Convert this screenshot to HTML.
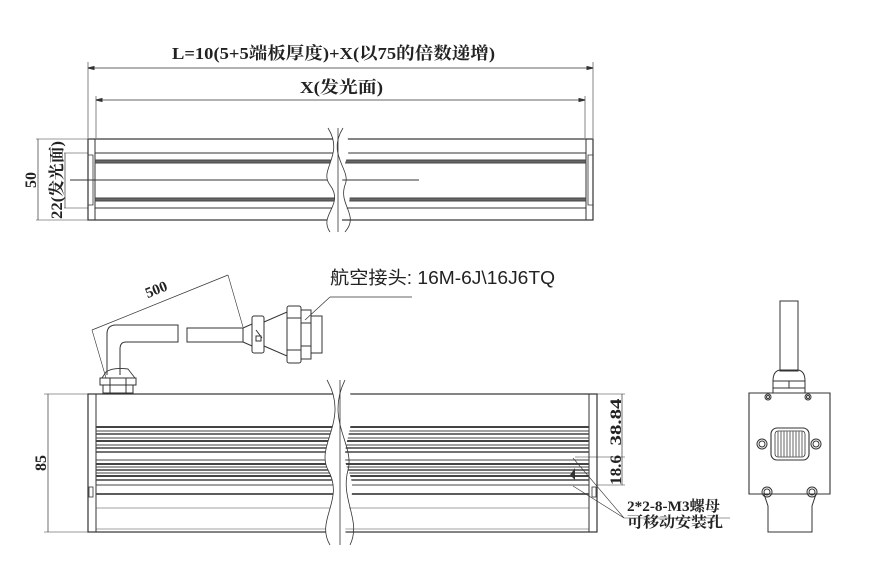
<!DOCTYPE html>
<html><head><meta charset="utf-8"><style>
html,body{margin:0;padding:0;background:#fff;}
svg{display:block;}
text{font-family:"Liberation Serif","Noto Serif CJK SC",serif;font-weight:bold;fill:#222;}
.s{font-family:"Liberation Sans","Noto Sans CJK SC",sans-serif;font-weight:normal;}
</style></head><body>
<svg width="877" height="580" viewBox="0 0 877 580" xmlns="http://www.w3.org/2000/svg" fill="none" stroke="#333" stroke-width="1">
<!-- TOP VIEW dims -->
<text x="172" y="59" font-size="17" textLength="323" lengthAdjust="spacingAndGlyphs" stroke="none">L=10(5+5端板厚度)+X(以75的倍数递增)</text>
<line x1="88" y1="62" x2="88" y2="138" stroke-width="0.6"/>
<line x1="593" y1="62" x2="593" y2="138" stroke-width="0.6"/>
<line x1="88" y1="68" x2="593" y2="68" stroke-width="0.7"/>
<path d="M88 68 l6 -1.5 v3z M593 68 l-6 -1.5 v3z" fill="#333"/>
<text x="300" y="93" font-size="17" textLength="83" lengthAdjust="spacingAndGlyphs" stroke="none">X(发光面)</text>
<line x1="96" y1="96" x2="96" y2="138" stroke-width="0.6"/>
<line x1="585" y1="96" x2="585" y2="138" stroke-width="0.6"/>
<line x1="96" y1="100" x2="585" y2="100" stroke-width="0.7"/>
<path d="M96 100 l6 -1.5 v3z M585 100 l-6 -1.5 v3z" fill="#333"/>
<!-- top body -->
<rect x="88" y="139" width="505" height="81" stroke-width="1.2"/>
<line x1="95" y1="139" x2="95" y2="220"/>
<line x1="586" y1="139" x2="586" y2="220"/>
<line x1="95" y1="153" x2="586" y2="153"/>
<rect x="95" y="160" width="491" height="3" fill="#666" stroke="#444"/>
<rect x="95" y="198" width="491" height="3" fill="#666" stroke="#444"/>
<line x1="95" y1="208" x2="586" y2="208"/>
<path d="M88 155 h5 v50 h-5" stroke-width="0.8"/>
<path d="M593 155 h-5 v50 h5" stroke-width="0.8"/>
<line x1="70" y1="180" x2="419" y2="180" stroke-width="0.9"/>
<!-- break top -->
<path d="M328 128 C345 155 318 170 330 185 C345 205 318 215 330 232 L345 232 C333 215 360 205 345 185 C333 170 360 155 343 128 Z" fill="#fff" stroke="none"/>
<path d="M328 128 C345 155 318 170 330 185 C345 205 318 215 330 232" stroke-width="0.8"/>
<path d="M343 128 C326 155 352 170 345 185 C338 205 360 215 345 232" stroke-width="0.8"/>
<line x1="338" y1="128" x2="338" y2="232" stroke-width="0.8"/>
<!-- 50 / 22 dims -->
<line x1="36" y1="139" x2="88" y2="139" stroke-width="0.5"/>
<line x1="36" y1="220" x2="88" y2="220" stroke-width="0.5"/>
<line x1="38" y1="139" x2="38" y2="220" stroke-width="0.7"/>
<line x1="64" y1="153" x2="88" y2="153" stroke-width="0.5"/>
<line x1="64" y1="208" x2="88" y2="208" stroke-width="0.5"/>
<line x1="65" y1="153" x2="65" y2="208" stroke-width="0.7"/>
<text transform="translate(36,180) rotate(-90)" font-size="16" text-anchor="middle" stroke="none">50</text>
<text transform="translate(62,180) rotate(-90)" font-size="16" text-anchor="middle" textLength="78" lengthAdjust="spacingAndGlyphs" stroke="none">22(发光面)</text>

<!-- BOTTOM VIEW -->
<text class="s" x="330" y="284" font-size="18" textLength="225" lengthAdjust="spacingAndGlyphs" stroke="none">航空接头: 16M-6J\16J6TQ</text>
<line x1="330" y1="297" x2="412" y2="297" stroke-width="0.7"/>
<line x1="330" y1="297" x2="305" y2="320" stroke-width="0.7"/>
<!-- 500 dimension -->
<line x1="92" y1="330" x2="228" y2="275" stroke-width="0.7"/>
<line x1="92" y1="330" x2="106" y2="378" stroke-width="0.6"/>
<line x1="228" y1="275" x2="243" y2="327" stroke-width="0.6"/>
<text transform="translate(158,294) rotate(-22)" font-size="15" text-anchor="middle" stroke="none">500</text>
<!-- cable elbow -->
<path d="M107 375 V334 Q107 325 116 325 H178 V342 H126 Q120 342 120 349 V375" stroke-width="1"/>
<rect x="187" y="328" width="56" height="14" stroke-width="1"/>
<!-- connector -->
<path d="M243 328 L252 324 V346 L243 342" stroke-width="1"/>
<rect x="252" y="316" width="12" height="37" rx="2"/>
<line x1="256" y1="330" x2="262" y2="338"/>
<rect x="256" y="336" width="5" height="5"/>
<path d="M264 322 L287 312 V356 L264 346Z"/>
<rect x="287" y="306" width="14" height="57" rx="2"/>
<line x1="287" y1="318" x2="301" y2="318"/><line x1="287" y1="350" x2="301" y2="350"/>
<rect x="301" y="310" width="10" height="49"/>
<line x1="301" y1="323" x2="311" y2="323"/><line x1="301" y1="346" x2="311" y2="346"/>
<rect x="311" y="316" width="11" height="37"/>
<!-- gland -->
<path d="M106 372 Q113 367 128 369 L135 378 H102 Z" stroke-width="0.9"/>
<rect x="100" y="378" width="36" height="7"/>
<rect x="103" y="385" width="30" height="8"/>
<line x1="110" y1="378" x2="110" y2="393"/><line x1="126" y1="378" x2="126" y2="393"/>
<!-- body -->
<rect x="88" y="394" width="509" height="138" stroke-width="1.2"/>
<line x1="96" y1="394" x2="96" y2="532"/>
<line x1="589" y1="394" x2="589" y2="532"/>
<g stroke="#444">
<line x1="96" y1="427" x2="589" y2="427" stroke-width="2"/>
<line x1="96" y1="431" x2="589" y2="431"/>
<line x1="96" y1="434" x2="589" y2="434" stroke-width="1.5"/>
<line x1="96" y1="438" x2="589" y2="438"/>
<line x1="96" y1="441" x2="589" y2="441" stroke-width="2"/>
<line x1="96" y1="445" x2="589" y2="445"/>
<line x1="96" y1="448" x2="589" y2="448" stroke-width="1.5"/>
<line x1="96" y1="452" x2="589" y2="452" stroke-width="1.5"/>
<line x1="96" y1="460" x2="589" y2="460"/>
<line x1="96" y1="464" x2="589" y2="464" stroke-width="2"/>
<line x1="96" y1="467" x2="589" y2="467"/>
<line x1="96" y1="470" x2="589" y2="470" stroke-width="1.5"/>
<line x1="96" y1="473" x2="589" y2="473"/>
<line x1="96" y1="476" x2="589" y2="476" stroke-width="2"/>
<line x1="96" y1="480" x2="589" y2="480" stroke-width="1.5"/>
<line x1="96" y1="485" x2="589" y2="485"/>
<line x1="96" y1="494" x2="589" y2="494" stroke-width="1.8"/>
<line x1="96" y1="508" x2="589" y2="508" stroke-width="0.6"/>
<line x1="96" y1="529" x2="589" y2="529" stroke-width="0.6"/>
</g>
<rect x="89" y="487" width="4" height="10" stroke-width="0.8"/>
<rect x="592" y="487" width="4" height="10" stroke-width="0.8"/>
<path d="M570 475 L575 468 L575 480 Z" fill="#333" stroke="none"/>
<!-- break bottom -->
<path d="M327 380 C350 420 315 445 328 470 C345 500 315 520 330 545 L350 545 C335 520 362 500 348 470 C336 445 365 420 345 380 Z" fill="#fff" stroke="none"/>
<path d="M327 380 C350 420 315 445 328 470 C345 500 315 520 330 545" stroke-width="0.8"/>
<path d="M345 380 C325 420 355 445 348 470 C340 500 362 520 350 545" stroke-width="0.8"/>
<line x1="340" y1="380" x2="340" y2="545" stroke-width="0.8"/>
<!-- 85 dim -->
<line x1="44" y1="394" x2="88" y2="394" stroke-width="0.5"/>
<line x1="44" y1="532" x2="88" y2="532" stroke-width="0.5"/>
<line x1="48" y1="394" x2="48" y2="532" stroke-width="0.7"/>
<text transform="translate(46,463) rotate(-90)" font-size="16" text-anchor="middle" stroke="none">85</text>
<!-- right dims -->
<line x1="597" y1="394" x2="625" y2="394" stroke-width="0.5"/>
<line x1="575" y1="457" x2="625" y2="457" stroke-width="0.5"/>
<line x1="597" y1="485" x2="625" y2="485" stroke-width="0.5"/>
<line x1="622" y1="394" x2="622" y2="485" stroke-width="0.7"/>
<text transform="translate(621,422) rotate(-90)" font-size="16" text-anchor="middle" textLength="47" lengthAdjust="spacingAndGlyphs" stroke="none">38.84</text>
<text transform="translate(621,470) rotate(-90)" font-size="16" text-anchor="middle" textLength="30" lengthAdjust="spacingAndGlyphs" stroke="none">18.6</text>
<line x1="573" y1="458" x2="624" y2="518" stroke-width="0.6"/>
<line x1="573" y1="486" x2="624" y2="518" stroke-width="0.6"/>
<text x="627" y="511" font-size="15" textLength="93" lengthAdjust="spacingAndGlyphs" stroke="none">2*2-8-M3螺母</text>
<text x="627" y="527" font-size="15" textLength="96" lengthAdjust="spacingAndGlyphs" stroke="none">可移动安装孔</text>
<line x1="624" y1="518" x2="730" y2="518" stroke-width="0.6"/>

<!-- END VIEW -->
<rect x="780" y="301" width="18" height="70" stroke-width="1"/>
<path d="M773 381 Q773 371 780 370 H798 Q805 371 805 381 V393 H773 Z"/>
<line x1="773" y1="381" x2="805" y2="381"/><line x1="773" y1="388" x2="805" y2="388"/>
<line x1="789" y1="381" x2="789" y2="388"/>
<path d="M749 393 H830 V494 H749 Z" stroke-width="1.1"/>
<path d="M764 494 L768 506 V532 H812 V506 L816 494" stroke-width="1"/>
<circle cx="768" cy="397" r="3"/><circle cx="768" cy="397" r="1.5"/>
<circle cx="808" cy="397" r="3"/><circle cx="808" cy="397" r="1.5"/>
<circle cx="762" cy="444" r="5"/><circle cx="762" cy="444" r="3"/>
<circle cx="816" cy="444" r="5"/><circle cx="816" cy="444" r="3"/>
<circle cx="767" cy="492" r="5"/><circle cx="767" cy="492" r="3"/>
<circle cx="812" cy="492" r="5"/><circle cx="812" cy="492" r="3"/>
<rect x="771" y="428" width="38" height="32" rx="6" stroke-width="1.1"/>
<rect x="775" y="431" width="30" height="26" rx="3" stroke-width="0.8"/>
<g stroke="#666" stroke-width="1">
<line x1="778" y1="431" x2="778" y2="457"/><line x1="781" y1="431" x2="781" y2="457"/>
<line x1="784" y1="431" x2="784" y2="457"/><line x1="787" y1="431" x2="787" y2="457"/>
<line x1="790" y1="431" x2="790" y2="457"/><line x1="793" y1="431" x2="793" y2="457"/>
<line x1="796" y1="431" x2="796" y2="457"/><line x1="799" y1="431" x2="799" y2="457"/>
<line x1="802" y1="431" x2="802" y2="457"/>
</g>
</svg>
</body></html>
